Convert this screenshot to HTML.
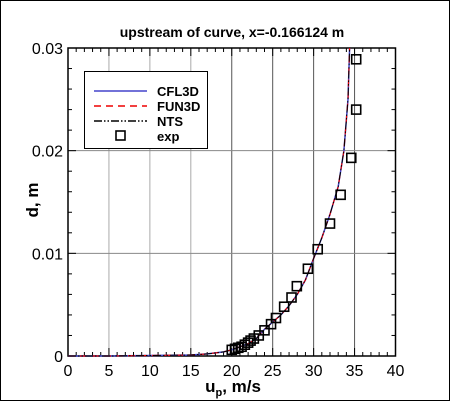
<!DOCTYPE html>
<html><head><meta charset="utf-8"><style>
html,body{margin:0;padding:0;background:#fff}
svg{display:block;font-family:"Liberation Sans",Arial,sans-serif}
</style></head><body>
<svg id="chart" width="450" height="401" viewBox="0 0 450 401">
<rect x="0.5" y="0.5" width="449" height="400" fill="#fff" stroke="#000"/>
<text x="232" y="37" font-size="14" font-weight="bold" text-anchor="middle">upstream of curve, x=-0.166124 m</text>
<g id="grid"></g><g id="axes"></g><g id="series"></g>
<text x="0" y="0" transform="translate(38,200) rotate(-90)" font-size="17" font-weight="bold" text-anchor="middle">d, m</text>
<text x="233" y="392" font-size="17" font-weight="bold" text-anchor="middle">u<tspan font-size="11" dy="4">p</tspan><tspan dy="-4">, m/s</tspan></text>
<g>
<rect x="84.5" y="71.5" width="123" height="77" fill="#fff" stroke="#000"/>
<line x1="94" y1="91" x2="147" y2="91" stroke="#4444cc" stroke-width="1.5"/>
<text x="157" y="96" font-size="13" font-weight="bold">CFL3D</text>
<line x1="94" y1="106" x2="147" y2="106" stroke="#e00" stroke-width="1.5" stroke-dasharray="7,5"/>
<text x="157" y="111" font-size="13" font-weight="bold">FUN3D</text>
<line x1="94" y1="121" x2="147" y2="121" stroke="#000" stroke-width="1.5" stroke-dasharray="8,2,1.5,2,1.5,2"/>
<text x="157" y="126" font-size="13" font-weight="bold">NTS</text>
<rect x="116" y="131" width="9" height="9" fill="none" stroke="#000" stroke-width="1.6"/>
<text x="157" y="141" font-size="13" font-weight="bold">exp</text>
</g>
</svg>
<script>
const xTicks=[0,5,10,15,20,25,30,35,40];
const yTicks=[0,0.01,0.02,0.03];
const yTickLabels=["0","0.01","0.02","0.03"];
const curveU=[0,5,10,15,17,19,20,21,22,23,24,25,26,27,28,29,30,31,32,33,33.7,34.2,34.4];
const curveD=[0,0,0.00005,0.0001,0.0002,0.0004,0.0006,0.0009,0.0012,0.0017,0.0026,0.0033,0.0040,0.0049,0.0060,0.0074,0.0095,0.0115,0.0138,0.0165,0.020,0.025,0.030];
const expU=[20.0,20.4,20.8,21.2,21.6,22.0,22.3,22.7,23.3,24.0,24.8,25.4,26.4,27.3,27.95,29.3,30.5,32.0,33.3,34.6,35.2,35.2];
const expD=[0.0006,0.0007,0.0008,0.0009,0.0011,0.0013,0.0015,0.0017,0.0020,0.0025,0.0031,0.0037,0.0048,0.0057,0.0068,0.0085,0.0104,0.0129,0.0157,0.0193,0.0240,0.0289];
const X0=68,X1=395.5,Y0=356,Y1=48;
const xs=u=>X0+(u-0)/(40-0)*(X1-X0);
const ys=d=>Y0-(d-0)/(0.03-0)*(Y0-Y1);
const NS="http://www.w3.org/2000/svg";
function mk(tag,attrs,parent){const e=document.createElementNS(NS,tag);for(const k in attrs)e.setAttribute(k,attrs[k]);parent.appendChild(e);return e;}
const grid=document.getElementById('grid'),axes=document.getElementById('axes'),series=document.getElementById('series');
xTicks.forEach(t=>{if(t>0&&t<40){const l=mk('line',{x1:xs(t),y1:Y1,x2:xs(t),y2:Y0,stroke:t<=15?'#aaa':'#555','stroke-width':1},grid);

}
const tx=mk('text',{x:xs(t),y:Y0+20,'font-size':16,'text-anchor':'middle'},axes);tx.textContent=t;

});
yTicks.forEach((t,i)=>{if(t>0&&t<0.03){const l=mk('line',{x1:X0,y1:ys(t),x2:X1,y2:ys(t),stroke:'#888','stroke-width':1},grid);

}
const tx=mk('text',{x:X0-5,y:ys(t)+6,'font-size':16,'text-anchor':'end'},axes);tx.textContent=yTickLabels[i];

});
for(let u=0;u<=40;u++){const major=u%5==0;mk('line',{x1:xs(u),y1:Y0,x2:xs(u),y2:Y0-(major?8:4),stroke:'#000'},axes);mk('line',{x1:xs(u),y1:Y1,x2:xs(u),y2:Y1+(major?8:4),stroke:'#000'},axes);}
for(let k=0;k<=15;k++){const d=k*0.002,major=k%5==0;mk('line',{x1:X0,y1:ys(d),x2:X0+(major?8:4),y2:ys(d),stroke:'#000'},axes);mk('line',{x1:X1,y1:ys(d),x2:X1-(major?8:4),y2:ys(d),stroke:'#000'},axes);}
const box=mk('rect',{x:X0,y:Y1,width:X1-X0,height:Y0-Y1,fill:'none',stroke:'#000','stroke-width':1.5},axes);


const pts=curveU.map((u,i)=>xs(u).toFixed(1)+','+ys(curveD[i]).toFixed(1)).join(' ');
const c1=mk('polyline',{points:pts,fill:'none',stroke:'#4444cc','stroke-width':1.5},series);


const c2=mk('polyline',{points:pts,fill:'none',stroke:'#e00','stroke-width':1.2,'stroke-dasharray':'7,5'},series);


const c3=mk('polyline',{points:pts,fill:'none',stroke:'#000','stroke-width':1,'stroke-dasharray':'8,2,1.5,2,1.5,2'},series);


expU.forEach((u,i)=>{const r=mk('rect',{x:xs(u)-4.5,y:ys(expD[i])-4.5,width:9,height:9,fill:'none',stroke:'#000','stroke-width':1.6},series);

});
</script>
</body></html>
